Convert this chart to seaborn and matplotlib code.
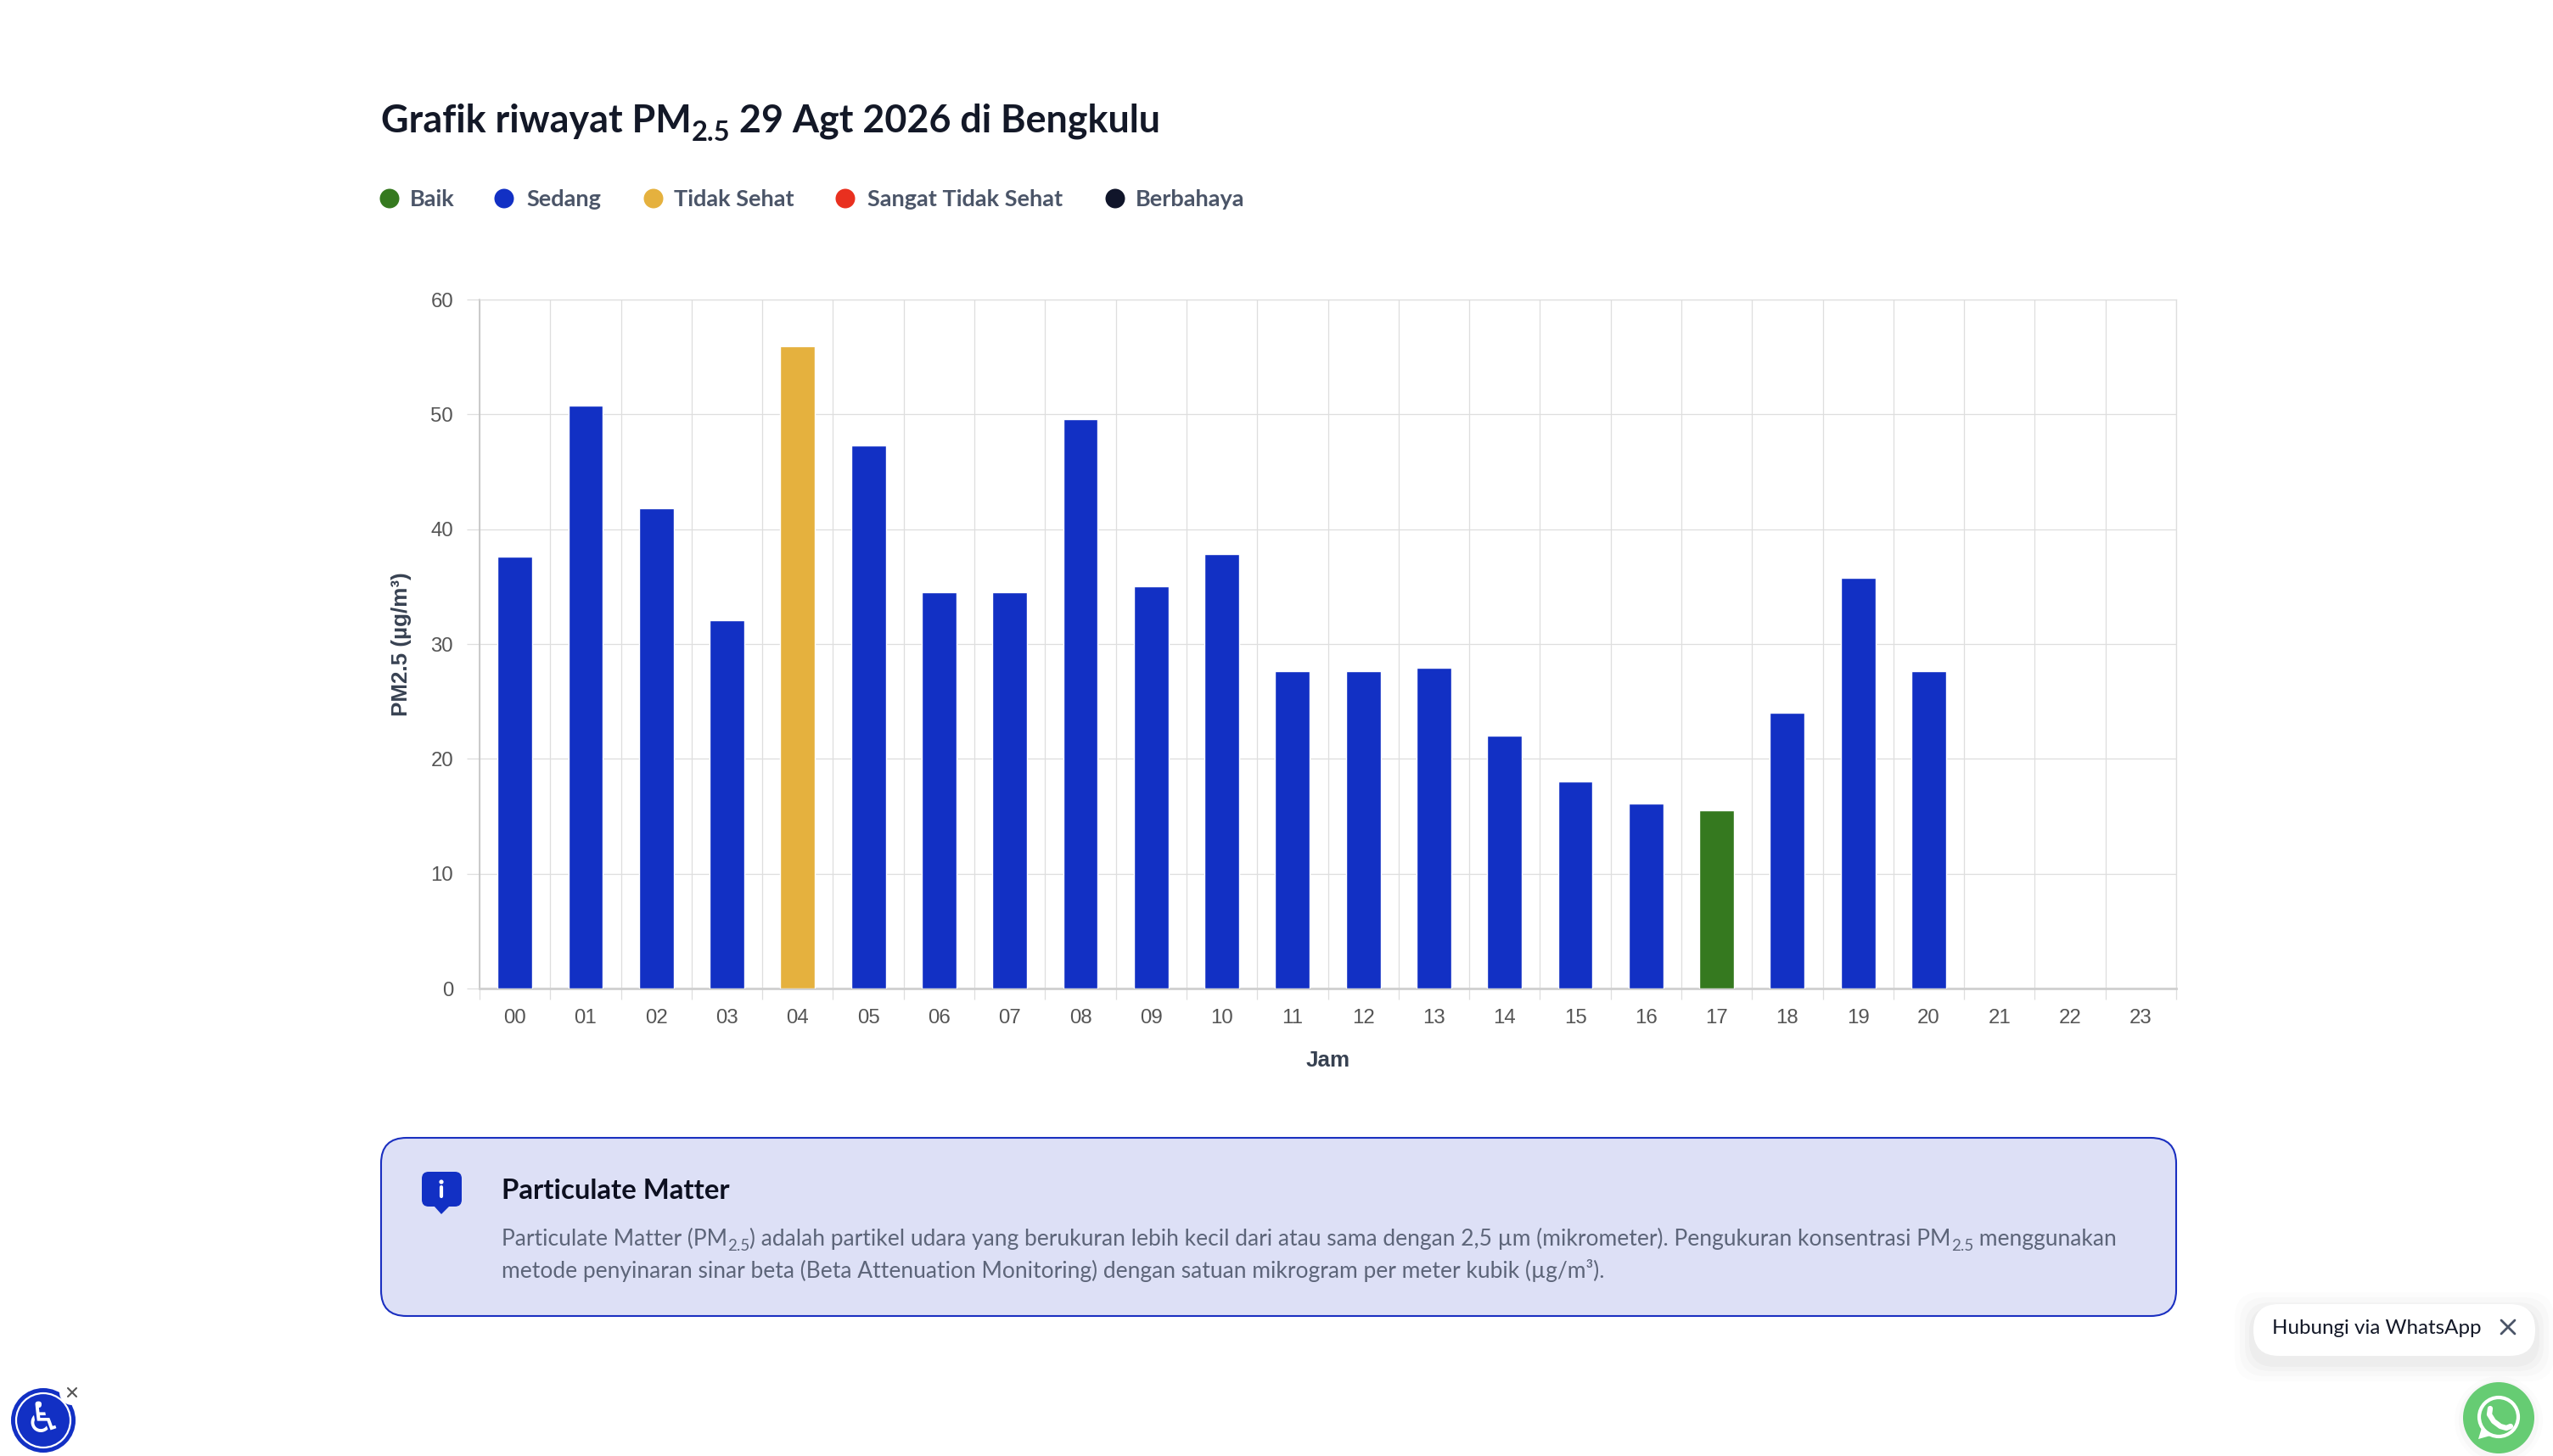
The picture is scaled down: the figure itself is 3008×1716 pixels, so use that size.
import pandas as pd
import seaborn as sns
import matplotlib
matplotlib.use("Agg")
import matplotlib.pyplot as plt
from matplotlib.patches import Circle, FancyBboxPatch, Polygon

# data
jam = ["%02d" % h for h in range(24)]
jam_terisi = jam[:21]
pm25 = [37.6, 50.8, 41.8, 32.1, 55.9, 47.3, 34.5, 34.5, 49.6, 35.0, 37.8,
        27.6, 27.6, 27.9, 22.0, 18.0, 16.1, 15.5, 24.0, 35.8, 27.6]
status = ["Sedang", "Sedang", "Sedang", "Sedang", "Tidak Sehat", "Sedang", "Sedang",
          "Sedang", "Sedang", "Sedang", "Sedang", "Sedang", "Sedang", "Sedang",
          "Sedang", "Sedang", "Sedang", "Baik", "Sedang", "Sedang", "Sedang"]
kategori = ["Baik", "Sedang", "Tidak Sehat", "Sangat Tidak Sehat", "Berbahaya"]
warna = ["#35791f", "#1230c4", "#e5b13e", "#e9301f", "#10152a"]
y_ticks = [0, 10, 20, 30, 40, 50, 60]

W, H = 3008, 1716
HEAD_FONT = "Lato"
CHART_FONT = "Liberation Sans"

sns.set_theme(style="white")
plt.rcParams["font.family"] = [HEAD_FONT, "DejaVu Sans"]

fig = plt.figure(figsize=(W / 100, H / 100), dpi=100, facecolor="white")

# page layer in pixel coordinates, for everything around the chart
bg = fig.add_axes([0, 0, 1, 1])
bg.set_xlim(0, W)
bg.set_ylim(H, 0)
bg.axis("off")


def text_run(x, y, parts, color, weight="normal"):
    # parts: (string, size, shift down) placed one after the other on a baseline
    renderer = fig.canvas.get_renderer()
    for s, size, dy in parts:
        t = bg.text(x, y + dy, s, fontsize=size, color=color, weight=weight,
                    va="baseline", ha="left")
        x = x + t.get_window_extent(renderer).width
    return x


def cross(x, y, r, color, lw=2.0):
    bg.plot([x - r, x + r], [y - r, y + r], color=color, lw=lw, solid_capstyle="round")
    bg.plot([x - r, x + r], [y + r, y - r], color=color, lw=lw, solid_capstyle="round")


# title
text_run(449, 156, [("Grafik riwayat PM", 32.3, 0), ("2.5", 23.5, 10), (" 29 Agt 2026 di Bengkulu", 32.3, 0)],
         "#131827", weight="bold")

# legend
dot_x = [459, 594, 770, 996, 1314]
label_x = [483, 620, 794, 1022, 1338]
for k, c, dx, lx in zip(kategori, warna, dot_x, label_x):
    bg.add_patch(Circle((dx, 234), 11.5, color=c, lw=0))
    bg.text(lx, 243, k, fontsize=19.5, color="#4b5568", weight="bold", va="baseline")

# chart
left, right, top, bottom = 565, 2564, 353, 1165
ax = fig.add_axes([left / W, 1 - bottom / H, (right - left) / W, (bottom - top) / H])
df = pd.DataFrame({"jam": jam_terisi, "pm25": pm25, "status": status})
sns.barplot(data=df, x="jam", y="pm25", hue="status", order=jam, hue_order=kategori,
            palette=dict(zip(kategori, warna)), dodge=False, width=0.49, legend=False,
            saturation=1, ax=ax, zorder=3)
ax.set_xlim(-0.5, 23.5)
ax.set_ylim(0, 60)
ax.set_yticks(y_ticks)
ax.set_xticks(range(24))
ax.set_xticklabels(jam)
ax.set_xticks([i - 0.5 for i in range(25)], minor=True)
ax.grid(which="minor", axis="x", color="#dedede", lw=0.9, zorder=0)
ax.grid(which="major", axis="y", color="#dedede", lw=0.9, zorder=0)
ax.grid(which="major", axis="x", visible=False)
ax.set_axisbelow(True)
ax.tick_params(axis="x", which="major", length=0, pad=17, labelsize=17.3, labelcolor="#555555")
ax.tick_params(axis="x", which="minor", length=9.4, width=0.9, color="#dedede", bottom=True)
ax.tick_params(axis="y", which="major", length=10.8, width=0.9, color="#dedede", pad=11.5,
               labelsize=17.3, labelcolor="#555555", left=True)
for lab in ax.get_xticklabels() + ax.get_yticklabels():
    lab.set_family(CHART_FONT)
for side in ["top", "right"]:
    ax.spines[side].set_color("#dedede")
    ax.spines[side].set_linewidth(0.9)
ax.spines["left"].set_color("#c0c0c0")
ax.spines["left"].set_linewidth(1.1)
ax.spines["bottom"].set_color("#cfcfcf")
ax.spines["bottom"].set_linewidth(2)
ax.set_xlabel("Jam", family=CHART_FONT, weight="bold", fontsize=18.7, color="#374151", labelpad=20)
ax.set_ylabel("PM2.5 (µg/m³)", family=CHART_FONT, weight="bold", fontsize=18.7, color="#374151", labelpad=16)

# info panel
bg.add_patch(FancyBboxPatch((449, 1341), 2115, 210, boxstyle="round,pad=0,rounding_size=30",
                            fc="#dde0f6", ec="#1a2fc0", lw=1.5))
bg.add_patch(FancyBboxPatch((497, 1381), 47, 41, boxstyle="round,pad=0,rounding_size=8",
                            fc="#1230c4", ec="none"))
bg.add_patch(Polygon([(511, 1421), (530, 1421), (520, 1431)], fc="#1230c4", ec="none"))
bg.add_patch(Circle((520, 1393), 2.6, color="white", lw=0))
bg.plot([520, 520], [1399, 1410], color="white", lw=3, solid_capstyle="round")
bg.text(591, 1413, "Particulate Matter", fontsize=23.7, color="#0d1020", weight="bold", va="baseline")
body = "#5d6579"
text_run(591, 1468, [("Particulate Matter (PM", 19, 0), ("2.5", 13.5, 6),
                     (") adalah partikel udara yang berukuran lebih kecil dari atau sama dengan 2,5 µm (mikrometer). Pengukuran konsentrasi PM", 19, 0),
                     ("2.5", 13.5, 6), (" menggunakan", 19, 0)], body)
text_run(591, 1506, [("metode penyinaran sinar beta (Beta Attenuation Monitoring) dengan satuan mikrogram per meter kubik (µg/m³).", 19, 0)], body)

# whatsapp pill with soft shadow
for g, a in zip([22, 16, 10, 5], [0.012, 0.016, 0.02, 0.024]):
    bg.add_patch(FancyBboxPatch((2655 - g, 1537 + 8 - g), 332 + 2 * g, 61 + 2 * g,
                                boxstyle="round,pad=0,rounding_size=30", fc="black", ec="none", alpha=a))
bg.add_patch(FancyBboxPatch((2655, 1537), 332, 61, boxstyle="round,pad=0,rounding_size=30",
                            fc="white", ec="none"))
bg.text(2677, 1572, "Hubungi via WhatsApp", fontsize=17.4, color="#131827", va="baseline")
cross(2955, 1564, 8, "#4b5568")

# whatsapp button
for g, a in zip([10, 5], [0.012, 0.02]):
    bg.add_patch(Circle((2944, 1674), 42 + g, color="black", alpha=a, lw=0))
bg.add_patch(Circle((2944, 1671), 42, color="#66cc73", lw=0))
bg.add_patch(Polygon([(2920, 1696), (2926, 1676), (2938, 1691)], fc="white", ec="none"))
bg.add_patch(Circle((2944, 1670), 23, fc="#66cc73", ec="white", lw=3))
bg.plot([2934, 2933, 2938, 2946, 2953, 2958], [1660, 1667, 1675, 1681, 1683, 1681], color="white",
        lw=4.5, solid_capstyle="round")

# accessibility button
bg.add_patch(Circle((51, 1674), 38, color="#1230c4", lw=0))
bg.add_patch(Circle((51, 1674), 32, fc="none", ec="white", lw=1.6))
bg.text(51, 1674, "\u267f", family="DejaVu Sans", fontsize=36, color="white", ha="center", va="center")
bg.add_patch(Circle((85, 1641), 15, color="white", lw=0))
cross(85, 1641, 5, "#555555", lw=1.5)

fig.savefig("out.png", dpi=100, facecolor="white")
